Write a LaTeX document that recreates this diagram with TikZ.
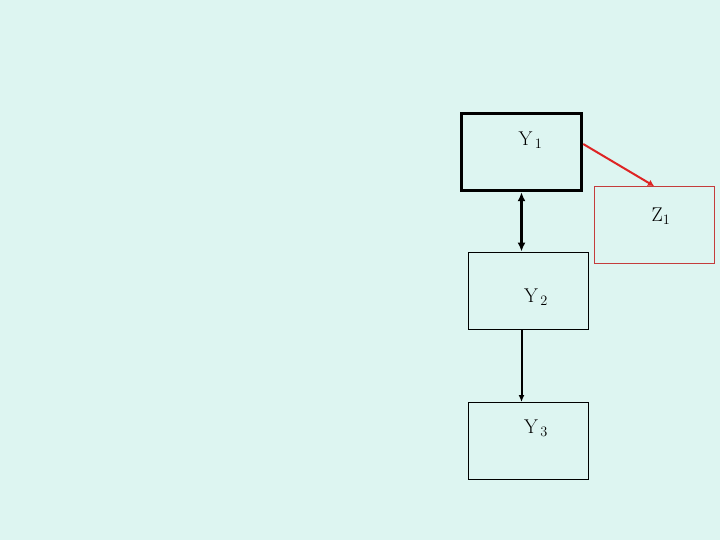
\documentclass[tikz,border=0pt]{standalone}
\usepackage{tikz}
\usetikzlibrary{arrows.meta}

\definecolor{bgcyan}{RGB}{221,245,241}
\definecolor{linkred}{RGB}{222,36,36}
\definecolor{boxred}{RGB}{196,60,60}

\begin{document}
\begin{tikzpicture}[
    x=1bp, y=-1bp,
    >={Latex[length=9bp,width=8bp]},
    box/.style={rectangle, draw, minimum width=120bp, minimum height=77bp, inner sep=0pt, fill=bgcyan},
    mainbox/.style={box, line width=3.4bp},
    sidebox/.style={box, draw=boxred, line width=0.9bp},
    lbl/.style={font=\fontsize{20}{21}\selectfont}
  ]

  % background
  \fill[bgcyan] (0,0) rectangle (720,540);
  \useasboundingbox (0,0) rectangle (720,540);

  % boxes
  \node[mainbox, label={[lbl, xshift=9bp, yshift=12bp]center:Y$_{\,1}$}] (y1) at (521.5,152) {};
  \node[sidebox, label={[lbl, xshift=7bp, yshift=9bp]center:Z$_1$}] (z1) at (654,225) {};
  \node[box, line width=0.9bp, label={[lbl, xshift=8bp, yshift=-7bp]center:Y$_{\,2}$}] (y2) at (528,290.5) {};
  \node[box, line width=0.9bp, label={[lbl, xshift=8bp, yshift=13bp]center:Y$_{\,3}$}] (y3) at (528,441) {};

  % links
  \draw[<->, line width=3bp] (y1.south) -- (y1.south |- y2.north);
  \draw[->, line width=2bp, >={Latex[length=7bp,width=6bp]}] (y2.south -| y1.south) -- (y3.north -| y1.south);
  \draw[->, linkred, line width=2bp, >={Latex[length=6bp,width=7bp]}] (y1.east |- 0,144) -- (z1.north);

\end{tikzpicture}
\end{document}
